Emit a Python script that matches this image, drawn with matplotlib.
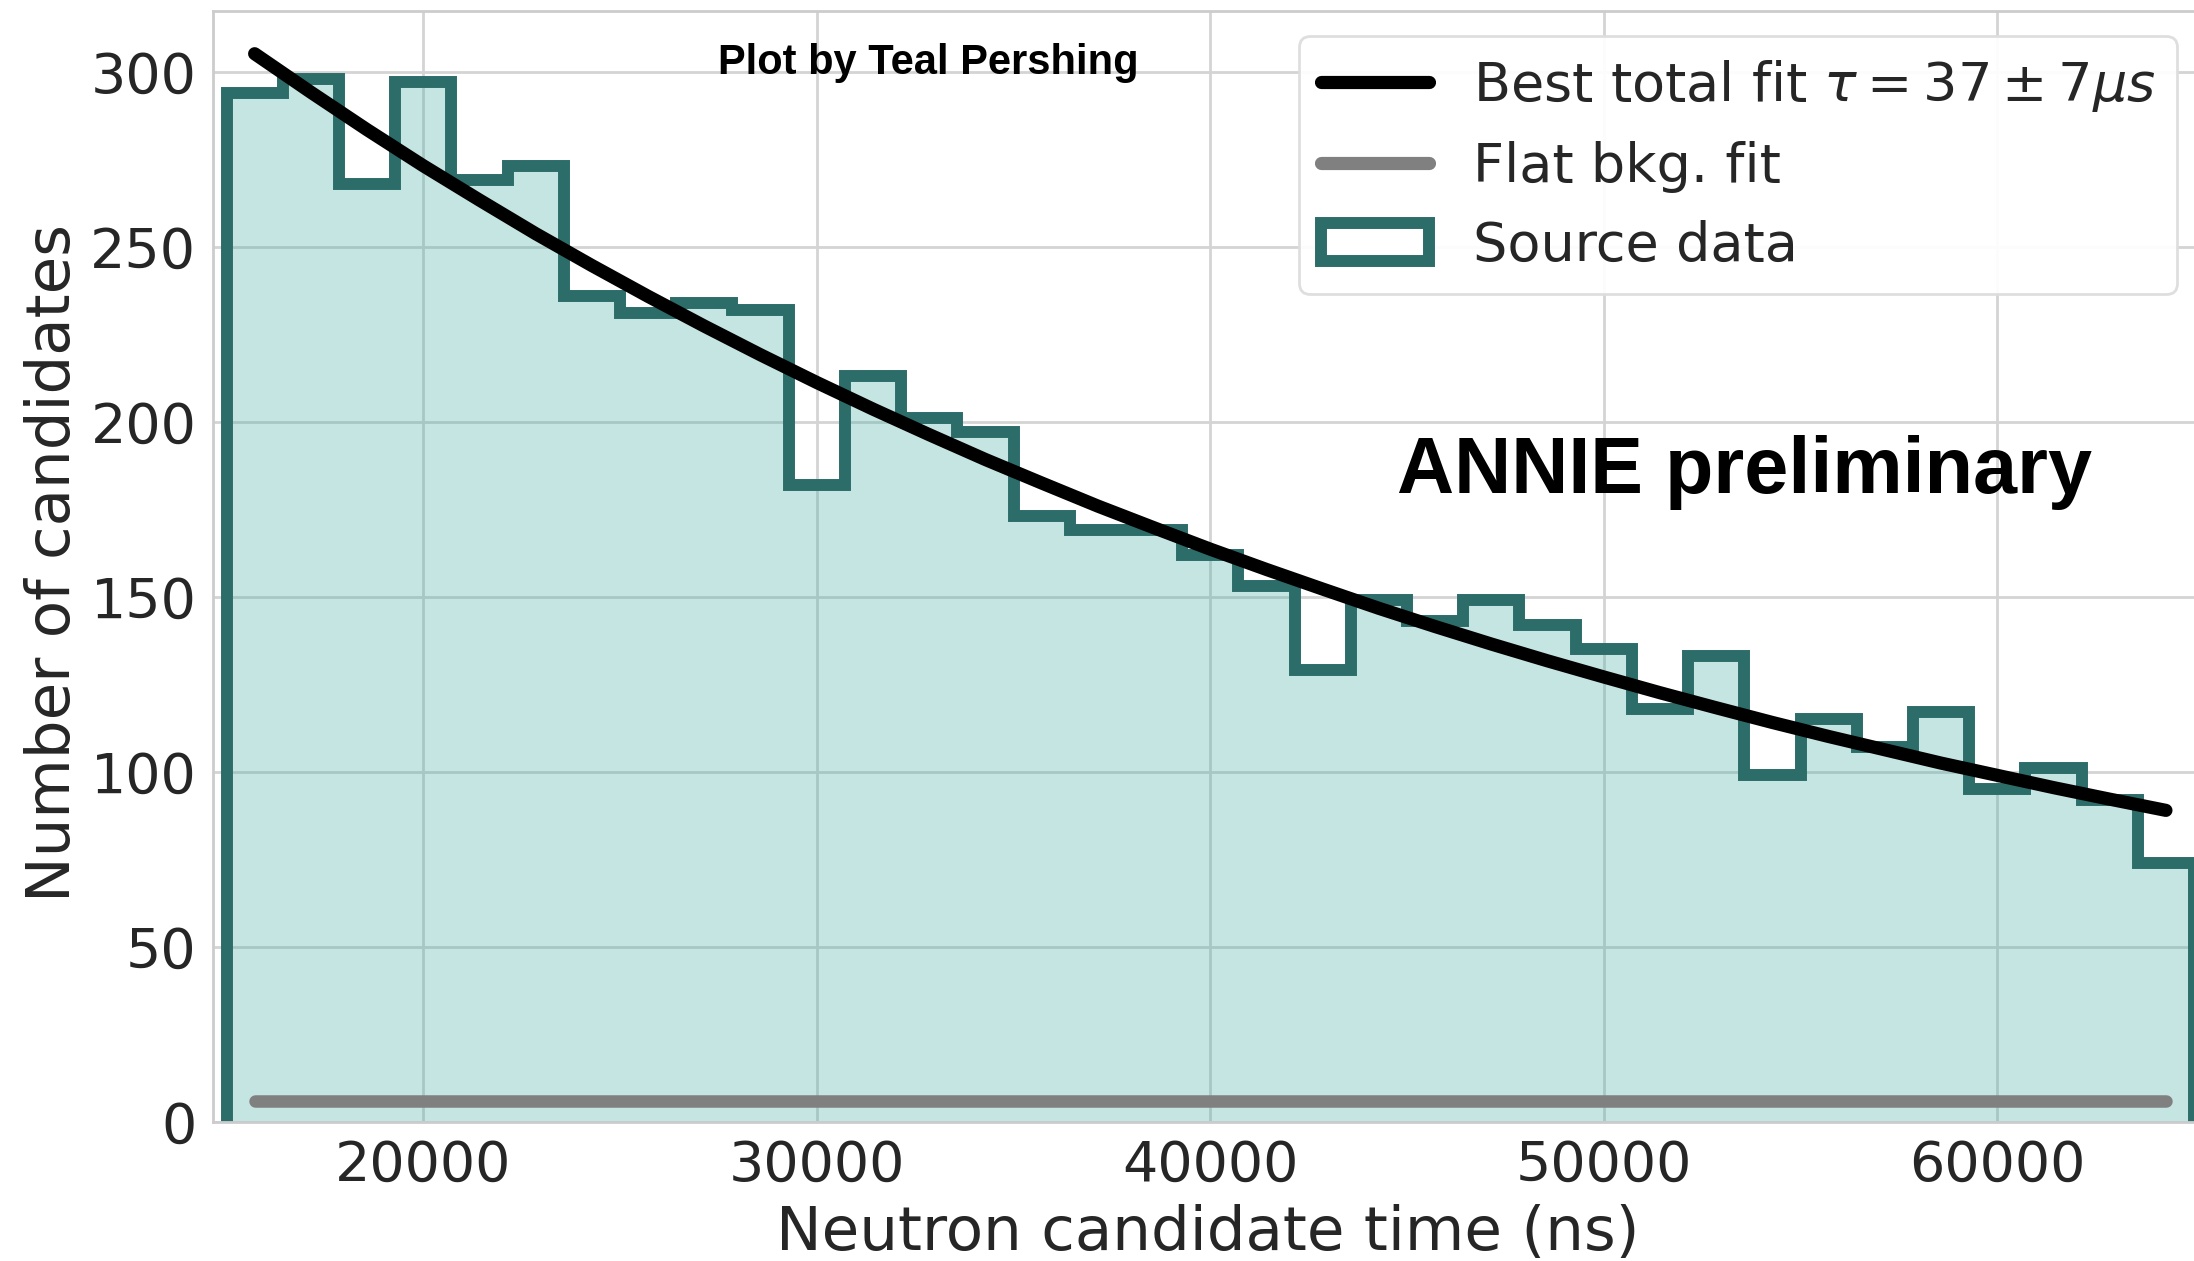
import numpy as np
import matplotlib
matplotlib.use("Agg")
import matplotlib.pyplot as plt
from matplotlib.patches import Patch
from matplotlib.lines import Line2D

# ---------------- data ----------------
bin_edges = np.linspace(15000, 65000, 36)          # 35 bins of neutron candidate time (ns)
counts = [294, 298, 268, 297, 269, 273, 236, 231, 234, 232,
          182, 213, 201, 197, 173, 169, 169, 162, 153, 129,
          149, 143, 149, 142, 135, 118, 133, 99, 115, 107,
          117, 95, 101, 92, 74]
# best total fit read at the bin centres
fit_values = [305.1, 294.1, 283.4, 273.1, 263.3, 253.7, 244.6, 235.8, 227.3, 219.1,
              211.2, 203.6, 196.3, 189.2, 182.5, 175.9, 169.7, 163.6, 157.8, 152.2,
              146.7, 141.5, 136.5, 131.7, 127.1, 122.6, 118.3, 114.1, 110.1, 106.3,
              102.5, 99.0, 95.5, 92.2, 89.0]
bkg_level = 6.0
x_ticks = [20000, 30000, 40000, 50000, 60000]
y_ticks = [0, 50, 100, 150, 200, 250, 300]
legend_labels = [r'Best total fit $\tau = 37 \pm 7\mu s$', 'Flat bkg. fit', 'Source data']

fit_times = (bin_edges[:-1] + bin_edges[1:]) / 2
bkg_values = np.full(len(fit_times), bkg_level)

# ---------------- style ----------------
W, H = 2194, 1261
edge_col = '#2c6d6a'
fill_col = '#41aca5'
text_col = '#262626'

fig = plt.figure(figsize=(W / 100, H / 100), dpi=100)
ax_left, ax_right, ax_top, ax_bottom = 213, 2202, 11, 1122
ax = fig.add_axes([ax_left / W, 1 - ax_bottom / H, (ax_right - ax_left) / W, (ax_bottom - ax_top) / H])

ax.set_axisbelow(True)
ax.grid(True, color='#d4d4d4', lw=2)

ax.stairs(counts, bin_edges, fill=True, facecolor=fill_col, edgecolor='none', alpha=0.3, zorder=1)
ax.stairs(counts, bin_edges, baseline=0, color=edge_col, lw=8.6, zorder=2)
ax.plot(fit_times, fit_values, color='black', lw=9.5, solid_capstyle='round',
        solid_joinstyle='round', zorder=3)
ax.plot(fit_times, bkg_values, color='#808080', lw=9, solid_capstyle='round', zorder=3)

ax.set_xlim(14656, 65202)
ax.set_ylim(0, 317.3)
ax.set_xticks(x_ticks)
ax.set_yticks(y_ticks)
ax.tick_params(length=0, pad=12, labelsize=40, labelcolor=text_col)

for s in ax.spines.values():
    s.set_color('#cccccc')
    s.set_linewidth(2)

ax.set_xlabel('Neutron candidate time (ns)', fontsize=44, color=text_col)
ax.xaxis.set_label_coords(0.5, -0.0738)
ax.set_ylabel('Number of candidates', fontsize=44, color=text_col)
ax.yaxis.set_label_coords(-0.0654, 0.503)

handles = [Line2D([], [], color='black', lw=9.5, solid_capstyle='round'),
           Line2D([], [], color='#808080', lw=9.5, solid_capstyle='round'),
           Patch(facecolor='white', edgecolor=edge_col, lw=8.6)]
leg = ax.legend(handles, legend_labels, loc='upper right',
                bbox_to_anchor=(2177 / W, 1 - 36 / H), bbox_transform=fig.transFigure,
                borderaxespad=0, fontsize=39, frameon=True, fancybox=True,
                framealpha=0.95, edgecolor='#dddddd', labelcolor=text_col,
                labelspacing=0.5)
leg.get_frame().set_linewidth(2)

fig.text(928.4 / W, 1 - 74 / H, 'Plot by Teal Pershing', ha='center', va='baseline',
         fontsize=30, fontweight='bold', family='Liberation Sans', color='black')
fig.text(1396.7 / W, 1 - 492.7 / H, 'ANNIE preliminary', ha='left', va='baseline',
         fontsize=57, fontweight='bold', family='Liberation Sans', color='black')

fig.savefig('out.png', dpi=100)
